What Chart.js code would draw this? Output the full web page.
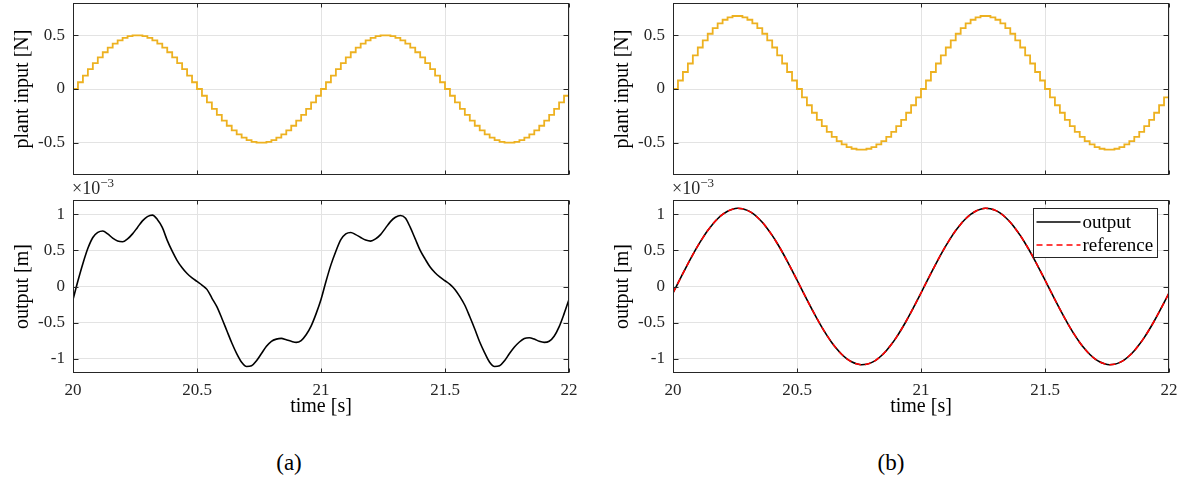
<!DOCTYPE html>
<html><head><meta charset="utf-8">
<script src="https://cdn.jsdelivr.net/npm/chart.js@4.4.1/dist/chart.umd.min.js"></script>
<style>
html,body{margin:0;padding:0;background:#fff;width:1188px;height:483px;overflow:hidden;position:relative;}
canvas{position:absolute;}
.txt{position:absolute;font-family:"Liberation Serif",serif;color:#000;white-space:nowrap;}
.cap{width:60px;text-align:center;font-size:23px;line-height:26px;}
.exp{font-size:18px;line-height:20px;color:#262626;}
.exp span{position:relative;top:-7px;font-size:13px;}
</style></head><body>
<canvas id="tl" width="590" height="180" style="left:0;top:0"></canvas>
<canvas id="bl" width="590" height="245" style="left:0;top:185px"></canvas>
<canvas id="tr" width="588" height="180" style="left:600px;top:0"></canvas>
<canvas id="br" width="588" height="245" style="left:600px;top:185px"></canvas>
<div class="txt exp" style="left:72px;top:178px">×10<span>−3</span></div>
<div class="txt exp" style="left:672px;top:178px">×10<span>−3</span></div>
<div class="txt cap" style="left:259px;top:450px">(a)</div>
<div class="txt cap" style="left:861px;top:450px">(b)</div>
<script>
// ---- data ----
const time = [20.00,20.02,20.04,20.06,20.08,20.10,20.12,20.14,20.16,20.18,20.20,20.22,20.24,20.26,20.28,20.30,20.32,20.34,20.36,20.38,20.40,20.42,20.44,20.46,20.48,20.50,20.52,20.54,20.56,20.58,20.60,20.62,20.64,20.66,20.68,20.70,20.72,20.74,20.76,20.78,20.80,20.82,20.84,20.86,20.88,20.90,20.92,20.94,20.96,20.98,
21.00,21.02,21.04,21.06,21.08,21.10,21.12,21.14,21.16,21.18,21.20,21.22,21.24,21.26,21.28,21.30,21.32,21.34,21.36,21.38,21.40,21.42,21.44,21.46,21.48,21.50,21.52,21.54,21.56,21.58,21.60,21.62,21.64,21.66,21.68,21.70,21.72,21.74,21.76,21.78,21.80,21.82,21.84,21.86,21.88,21.90,21.92,21.94,21.96,21.98,22.00];

// (a) plant input [N]
const inputA = [0,0.063,0.124,0.184,0.241,0.294,0.342,0.385,0.422,0.452,0.476,0.491,0.499,0.499,0.491,0.476,0.452,0.422,0.385,0.342,0.294,0.241,0.184,0.124,0.063,0,
-0.063,-0.124,-0.184,-0.241,-0.294,-0.342,-0.385,-0.422,-0.452,-0.476,-0.491,-0.499,-0.499,-0.491,-0.476,-0.452,-0.422,-0.385,-0.342,-0.294,-0.241,-0.184,-0.124,-0.063,
0,0.063,0.124,0.184,0.241,0.294,0.342,0.385,0.422,0.452,0.476,0.491,0.499,0.499,0.491,0.476,0.452,0.422,0.385,0.342,0.294,0.241,0.184,0.124,0.063,0,
-0.063,-0.124,-0.184,-0.241,-0.294,-0.342,-0.385,-0.422,-0.452,-0.476,-0.491,-0.499,-0.499,-0.491,-0.476,-0.452,-0.422,-0.385,-0.342,-0.294,-0.241,-0.184,-0.124,-0.063,0];

// (a) output [m] x1e-3
const outputA = [-0.18,0.08,0.32,0.53,0.68,0.75,0.77,0.73,0.67,0.63,0.62,0.66,0.73,0.82,0.91,0.97,0.99,0.93,0.82,0.64,0.49,0.36,0.26,0.18,0.12,0.07,0.02,-0.04,-0.16,-0.28,-0.44,-0.61,-0.78,-0.93,-1.05,-1.11,-1.10,-1.03,-0.93,-0.83,-0.76,-0.73,-0.72,-0.74,-0.76,-0.775,-0.75,-0.67,-0.55,-0.38,
-0.18,0.07,0.30,0.49,0.65,0.73,0.75,0.72,0.68,0.645,0.63,0.66,0.72,0.81,0.90,0.96,0.985,0.95,0.82,0.66,0.50,0.38,0.27,0.19,0.13,0.08,0.03,-0.04,-0.14,-0.26,-0.42,-0.59,-0.77,-0.92,-1.05,-1.11,-1.10,-1.03,-0.93,-0.84,-0.77,-0.72,-0.71,-0.73,-0.76,-0.775,-0.76,-0.69,-0.56,-0.38,-0.18];

// (b) plant input [N]
const inputB = [0,0.079,0.158,0.237,0.313,0.386,0.453,0.514,0.567,0.610,0.644,0.667,0.679,0.679,0.667,0.644,0.610,0.567,0.514,0.453,0.386,0.313,0.237,0.158,0.079,0,
-0.077,-0.151,-0.221,-0.287,-0.346,-0.399,-0.445,-0.485,-0.516,-0.540,-0.556,-0.564,-0.564,-0.556,-0.540,-0.516,-0.485,-0.445,-0.399,-0.346,-0.287,-0.221,-0.151,-0.077,
0,0.079,0.158,0.237,0.313,0.386,0.453,0.514,0.567,0.610,0.644,0.667,0.679,0.679,0.667,0.644,0.610,0.567,0.514,0.453,0.386,0.313,0.237,0.158,0.079,0,
-0.077,-0.151,-0.221,-0.287,-0.346,-0.399,-0.445,-0.485,-0.516,-0.540,-0.556,-0.564,-0.564,-0.556,-0.540,-0.516,-0.485,-0.445,-0.399,-0.346,-0.287,-0.221,-0.151,-0.077,0];

// (b) output and reference [m] x1e-3
const outputB = [-0.090,0.046,0.182,0.314,0.442,0.563,0.675,0.776,0.865,0.940,1.000,1.045,1.073,1.085,1.079,1.056,1.017,0.961,0.891,0.806,0.709,0.600,0.482,0.356,0.225,
0.090,-0.046,-0.182,-0.314,-0.442,-0.563,-0.675,-0.776,-0.865,-0.940,-1.000,-1.045,-1.073,-1.085,-1.079,-1.056,-1.017,-0.961,-0.891,-0.806,-0.709,-0.600,-0.482,-0.356,-0.225,
-0.090,0.046,0.182,0.314,0.442,0.563,0.675,0.776,0.865,0.940,1.000,1.045,1.073,1.085,1.079,1.056,1.017,0.961,0.891,0.806,0.709,0.600,0.482,0.356,0.225,
0.090,-0.046,-0.182,-0.314,-0.442,-0.563,-0.675,-0.776,-0.865,-0.940,-1.000,-1.045,-1.073,-1.085,-1.079,-1.056,-1.017,-0.961,-0.891,-0.806,-0.709,-0.600,-0.482,-0.356,-0.225,-0.090];
const referenceB = [-0.090,0.046,0.182,0.314,0.442,0.563,0.675,0.776,0.865,0.940,1.000,1.045,1.073,1.085,1.079,1.056,1.017,0.961,0.891,0.806,0.709,0.600,0.482,0.356,0.225,
0.090,-0.046,-0.182,-0.314,-0.442,-0.563,-0.675,-0.776,-0.865,-0.940,-1.000,-1.045,-1.073,-1.085,-1.079,-1.056,-1.017,-0.961,-0.891,-0.806,-0.709,-0.600,-0.482,-0.356,-0.225,
-0.090,0.046,0.182,0.314,0.442,0.563,0.675,0.776,0.865,0.940,1.000,1.045,1.073,1.085,1.079,1.056,1.017,0.961,0.891,0.806,0.709,0.600,0.482,0.356,0.225,
0.090,-0.046,-0.182,-0.314,-0.442,-0.563,-0.675,-0.776,-0.865,-0.940,-1.000,-1.045,-1.073,-1.085,-1.079,-1.056,-1.017,-0.961,-0.891,-0.806,-0.709,-0.600,-0.482,-0.356,-0.225,-0.090];

const timeTicks = [20, 20.5, 21, 21.5, 22];
const inputTicks = [-0.5, 0, 0.5];
const outputTicks = [-1, -0.5, 0, 0.5, 1];

// ---- rendering ----
Chart.defaults.font.family = '"Liberation Serif", "Times New Roman", serif';
Chart.defaults.color = '#262626';
const GRID = '#e3e3e3', AX = '#262626';

const pts = arr => arr.map((v, i) => ({x: time[i], y: v}));

const boxPlugin = {
  id: 'axesBox',
  afterDatasetsDraw(chart) {
    const {ctx, chartArea: a, scales} = chart;
    const L = Math.round(a.left) + 0.5, R = Math.round(a.right) - 0.5;
    const T = Math.round(a.top) + 0.5, B = Math.round(a.bottom) - 0.5;
    ctx.save();
    ctx.strokeStyle = AX; ctx.lineWidth = 1;
    ctx.strokeRect(L, T, R - L, B - T);
    ctx.beginPath();
    scales.x.ticks.forEach(t => {
      const px = Math.round(scales.x.getPixelForValue(t.value)) + 0.5;
      ctx.moveTo(px, B); ctx.lineTo(px, B - 4);
      ctx.moveTo(px, T); ctx.lineTo(px, T + 4);
    });
    scales.y.ticks.forEach(t => {
      const py = Math.round(scales.y.getPixelForValue(t.value)) + 0.5;
      ctx.moveTo(L, py); ctx.lineTo(L + 5, py);
      ctx.moveTo(R, py); ctx.lineTo(R - 5, py);
    });
    ctx.stroke();
    ctx.restore();
  }
};

const legendPlugin = {
  id: 'boxLegend',
  afterDraw(chart, args, o) {
    if (!o || !o.show) return;
    const {ctx, chartArea: a} = chart;
    const w = 124, h = 49;
    const x0 = Math.round(a.right - 12 - w) + 0.5, y0 = Math.round(a.top + 8) + 0.5;
    ctx.save();
    ctx.fillStyle = '#fff'; ctx.fillRect(x0, y0, w, h);
    ctx.strokeStyle = AX; ctx.lineWidth = 1; ctx.strokeRect(x0, y0, w, h);
    ctx.font = '19px "Liberation Serif", serif';
    ctx.textBaseline = 'middle'; ctx.textAlign = 'left';
    const items = chart.data.datasets;
    items.forEach((ds, i) => {
      const yy = Math.round(y0 + 13 + i * 23);
      ctx.strokeStyle = ds.borderColor; ctx.lineWidth = ds.borderWidth;
      ctx.setLineDash(ds.borderDash || []);
      ctx.beginPath(); ctx.moveTo(x0 + 3, yy); ctx.lineTo(x0 + 47, yy); ctx.stroke();
      ctx.setLineDash([]);
      ctx.fillStyle = '#000';
      ctx.fillText(ds.label, x0 + 49, yy + 1);
    });
    ctx.restore();
  }
};

function panel(id, datasets, cfg) {
  const c = document.getElementById(id);
  return new Chart(c, {
    type: 'line',
    data: {datasets},
    plugins: [boxPlugin, legendPlugin],
    options: {
      responsive: false, animation: false, events: [],
      layout: {padding: {left: 0, top: cfg.padTop, right: c.width - 569, bottom: cfg.padBottom}},
      plugins: {legend: {display: false}, tooltip: {enabled: false}, boxLegend: {show: !!cfg.legend}},
      elements: {point: {radius: 0}},
      scales: {
        x: {
          type: 'linear', min: 20, max: 22,
          afterBuildTicks: s => { s.ticks = timeTicks.map(v => ({value: v})); },
          afterFit: s => { s.height = cfg.xHeight; s.paddingLeft = 0; s.paddingRight = 0; s.paddingTop = 0; s.paddingBottom = 0; },
          grid: {color: GRID, lineWidth: 1, drawTicks: false},
          border: {display: false},
          ticks: {display: cfg.xLabels, padding: 7, color: AX, font: {size: 17}, callback: v => String(v), maxRotation: 0, autoSkip: false},
          title: {display: cfg.xLabels, text: 'time [s]', color: '#000', font: {size: 20}, padding: {top: 0, bottom: 11}}
        },
        y: {
          type: 'linear', min: cfg.ymin, max: cfg.ymax,
          afterBuildTicks: s => { s.ticks = cfg.yTicks.map(v => ({value: v})); },
          afterFit: s => { s.width = 73; s.paddingTop = 0; s.paddingBottom = 0; s.paddingLeft = 0; s.paddingRight = 0; },
          grid: {color: GRID, lineWidth: 1, drawTicks: false},
          border: {display: false},
          ticks: {padding: 8, color: AX, font: {size: 17}, callback: v => String(v), autoSkip: false},
          title: {display: true, text: cfg.ytitle, color: '#000', font: {size: 20}, padding: {top: 11, bottom: 0}}
        }
      }
    }
  });
}

const topCfg = {padTop: 3, padBottom: 5, xHeight: 0, xLabels: false, ymin: -0.8, ymax: 0.8, yTicks: inputTicks, ytitle: 'plant input [N]'};
const botCfg = {padTop: 15, padBottom: 0, xHeight: 57, xLabels: true, ymin: -1.2, ymax: 1.2, yTicks: outputTicks, ytitle: 'output [m]'};

const stairStyle = {borderColor: '#EDB120', borderWidth: 1.8, stepped: 'before', fill: false};

panel('tl', [Object.assign({label: 'plant input', data: pts(inputA)}, stairStyle)], topCfg);
panel('tr', [Object.assign({label: 'plant input', data: pts(inputB)}, stairStyle)], topCfg);
panel('bl', [{label: 'output', data: pts(outputA), borderColor: '#000', borderWidth: 1.6, cubicInterpolationMode: 'monotone', fill: false}], botCfg);
panel('br', [
  {label: 'output', data: pts(outputB), borderColor: '#000', borderWidth: 1.6, cubicInterpolationMode: 'monotone', fill: false, order: 2},
  {label: 'reference', data: pts(referenceB), borderColor: '#ff0000', borderWidth: 1.6, borderDash: [6, 4], cubicInterpolationMode: 'monotone', fill: false, order: 1}
], Object.assign({}, botCfg, {legend: true}));
</script>
</body></html>
